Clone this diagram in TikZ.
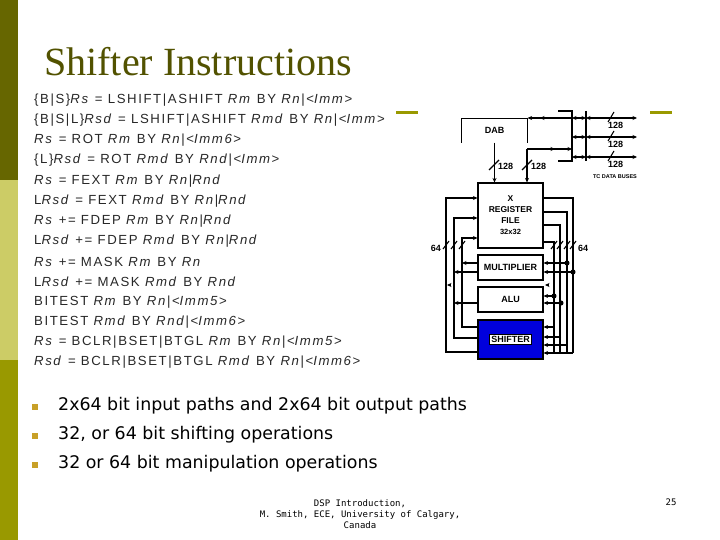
\documentclass[tikz,border=0pt]{standalone}
\usepackage{fontspec}
\setmainfont{Liberation Sans}
\newfontfamily\titlef{Liberation Serif}
\newfontfamily\codef[LetterSpace=12]{Liberation Sans}
\newfontfamily\bulf{DejaVu Sans}
\newfontfamily\footf{DejaVu Sans Mono}
\usetikzlibrary{arrows.meta}
\definecolor{darkol}{RGB}{102,102,0}
\definecolor{lightol}{RGB}{204,204,102}
\definecolor{olive2}{RGB}{153,153,0}
\definecolor{bulc}{RGB}{200,160,40}
\definecolor{codec}{RGB}{40,40,40}
\definecolor{shblue}{RGB}{0,0,220}
\newcommand{\I}[1]{\textit{#1}}
\tikzset{
 w/.style={line width=1.1pt},
 a/.style={w,-{Stealth[length=4.5pt,width=4pt]}},
 ab/.style={w,{Stealth[length=4.5pt,width=4pt]}-{Stealth[length=4.5pt,width=4pt]}},
 blk/.style={draw,w,minimum width=65pt,font=\bfseries\fontsize{9}{10}\selectfont},
 code/.style={anchor=west,inner sep=0,text=codec,font=\codef\fontsize{13.2}{14}\selectfont},
 bul/.style={anchor=west,inner sep=0,font=\bulf\fontsize{17.4}{18}\selectfont},
 sl/.style={w},
 lab/.style={font=\bfseries\fontsize{9}{10}\selectfont,inner sep=1pt},
 dot/.style={circle,fill,inner sep=1.8pt}
}
\begin{document}
\begin{tikzpicture}[x=1pt,y=-1pt]
\useasboundingbox (0,0) rectangle (720,540);
\fill[white] (0,0) rectangle (720,540);
\fill[darkol] (0,0) rectangle (18,180);
\fill[lightol] (0,180) rectangle (18,360);
\fill[olive2] (0,360) rectangle (18,540);
\node[anchor=base west,inner sep=0,font=\titlef\fontsize{40}{40}\selectfont,text=darkol!80!black] (title) at (44,76) {Shifter Instructions};
\draw[olive2,line width=3pt] (396,113) -- (418,113) (650,113) -- (672,113);
% code
\foreach \t [count=\i from 0] in {%
{\{B|S\}\I{Rs} = LSHIFT|ASHIFT \I{Rm} BY \I{Rn}|<\I{Imm}>},
{\{B|S|L\}\I{Rsd} = LSHIFT|ASHIFT \I{Rmd} BY \I{Rn}|<\I{Imm}>},
{\I{Rs} = ROT \I{Rm} BY \I{Rn}|<\I{Imm6}>},
{\{L\}\I{Rsd} = ROT \I{Rmd} BY \I{Rnd}|<\I{Imm}>},
{\I{Rs} = FEXT \I{Rm} BY \I{Rn}|\I{Rnd}},
{L\I{Rsd} = FEXT \I{Rmd} BY \I{Rn}|\I{Rnd}},
{\I{Rs} += FDEP \I{Rm} BY \I{Rn}|\I{Rnd}},
{L\I{Rsd} += FDEP \I{Rmd} BY \I{Rn}|\I{Rnd}},
{\I{Rs} += MASK \I{Rm} BY \I{Rn}},
{L\I{Rsd} += MASK \I{Rmd} BY \I{Rnd}},
{BITEST \I{Rm} BY \I{Rn}|<\I{Imm5}>},
{BITEST \I{Rmd} BY \I{Rnd}|<\I{Imm6}>},
{\I{Rs} = BCLR|BSET|BTGL \I{Rm} BY \I{Rn}|<\I{Imm5}>},
{\I{Rsd} = BCLR|BSET|BTGL \I{Rmd} BY \I{Rn}|<\I{Imm6}>}}
  \node[code] (c\i) at (34,{100+20.2*\i}) {\t};
% bullets
\foreach \t [count=\i from 0] in {2x64 bit input paths and 2x64 bit output paths,{32, or 64 bit shifting operations},32 or 64 bit manipulation operations}{
  \node[fill=bulc,inner sep=2.8pt] (b\i) at (35,{407+29*\i}) {};
  \node[bul] (bt\i) at (58,{406+29*\i}) {\t};
}
\node[font=\footf\fontsize{9}{11}\selectfont,align=center] (foot) at (360,514) {DSP Introduction,\\M. Smith, ECE, University of Calgary,\\Canada};
\node[font=\footf\fontsize{9}{11}\selectfont] (pg) at (671,502) {25};
% diagram
\node[blk,draw=none,minimum height=23pt] (dab) at (494.5,130.5) {DAB};
\draw[w] (dab.south west) -- (dab.north west) -- (dab.north east) -- (dab.south east);
\node[blk,minimum height=65pt,align=center,font=\bfseries\fontsize{8.5}{11}\selectfont] (rf) at (510.5,215.5) {X\\REGISTER\\FILE\\{\fontsize{7.5}{9}\selectfont 32x32}};
\node[blk,minimum height=25pt] (mul) at (510.5,267.5) {MULTIPLIER};
\node[blk,minimum height=25pt] (alu) at (510.5,299.5) {ALU};
\node[blk,fill=shblue,minimum height=39pt] (sh) at (510.5,339.5) {};
\node[draw=black,fill=white,line width=0.8pt,font=\bfseries\fontsize{9}{10}\selectfont,inner sep=2pt] (shl) at (sh) {SHIFTER};
% bus
\coordinate (bt) at (572,111); \coordinate (bb) at (572,161);
\draw[w] (558,111) -- (bt) -- (bb) -- (558,161);
\draw[w] (586,111) -- (586,161);
\foreach \y [count=\k] in {118,137,157}{
  \draw[ab] (572,\y) -- (586,\y);
  \draw[ab] (586,\y) -- (637,\y);
  \draw[sl] (608,{\y+4}) -- (614,{\y-6});
  \node[lab,anchor=west] (n\k) at (607,{\y+7}) {128};
}
\node[font=\bfseries\fontsize{5.5}{6}\selectfont] (tcb) at (615,177) {TC DATA BUSES};
\coordinate (d1) at (572,118);
\draw[a] (d1) -- (dab.east |- d1);
\draw[a] (d1) -- (540,118);
\coordinate (d2) at (572,149); \coordinate (d3) at (527,149);
\draw[a] (d3) -- (572,149);
\draw[a] (d3) -- (555,149);
\draw[a] (d3) -- (rf.north -| d3);
\draw[a] (dab.south) -- (rf.north -| dab.south);
\draw[sl] (489,170) -- (499,160); \node[lab,anchor=west] (n4) at (497,166) {128};
\draw[sl] (522,170) -- (532,160); \node[lab,anchor=west] (n5) at (530,166) {128};
% left feedback
\draw[a] (sh.west |- 0,352) -- (446,352) -- (446,198) -- (rf.west |- 0,198);
\draw[a] (sh.west |- 0,338) -- (454,338) -- (454,218) -- (rf.west |- 0,218);
\draw[a] (sh.west |- 0,327) -- (462,327) -- (462,238) -- (rf.west |- 0,238);
\draw[a] (mul.west |- 0,263) -- (462,263);
\draw[a] (mul.west |- 0,272) -- (454,272);
\draw[a] (alu.west |- 0,303) -- (454,303);
\draw[a] (450,285) -- (447,285);
\foreach \x in {446,454,462} \draw[sl] ({\x-3},249) -- ({\x+3},241);
\node[lab,anchor=east] (l64) at (442,248) {64};
% right outputs
\foreach \y/\x in {198/573,212/567,225/560,242/554}
  \draw[w] (rf.east |- 0,\y) -- (\x,\y) -- (\x,353);
\foreach \x in {554,560,567,573} \draw[sl] ({\x-3},249) -- ({\x+3},241);
\node[lab,anchor=west] (r64) at (577,248) {64};
\foreach \y/\x in {327/554,337/561,345/567,353/573}
  \draw[a] (\x,\y) -- (sh.east |- 0,\y);
\draw[a] (567,263) -- (mul.east |- 0,263);
\draw[a] (573,272) -- (mul.east |- 0,272);
\draw[a] (554,296) -- (alu.east |- 0,296);
\draw[a] (561,303) -- (alu.east |- 0,303);
\draw[a] (548,285) -- (545,285);
\node[dot] (p1) at (567,263) {}; \node[dot] (p2) at (573,272) {};
\node[dot] (p3) at (554,296) {}; \node[dot] (p4) at (561,303) {};
\end{tikzpicture}
\end{document}
